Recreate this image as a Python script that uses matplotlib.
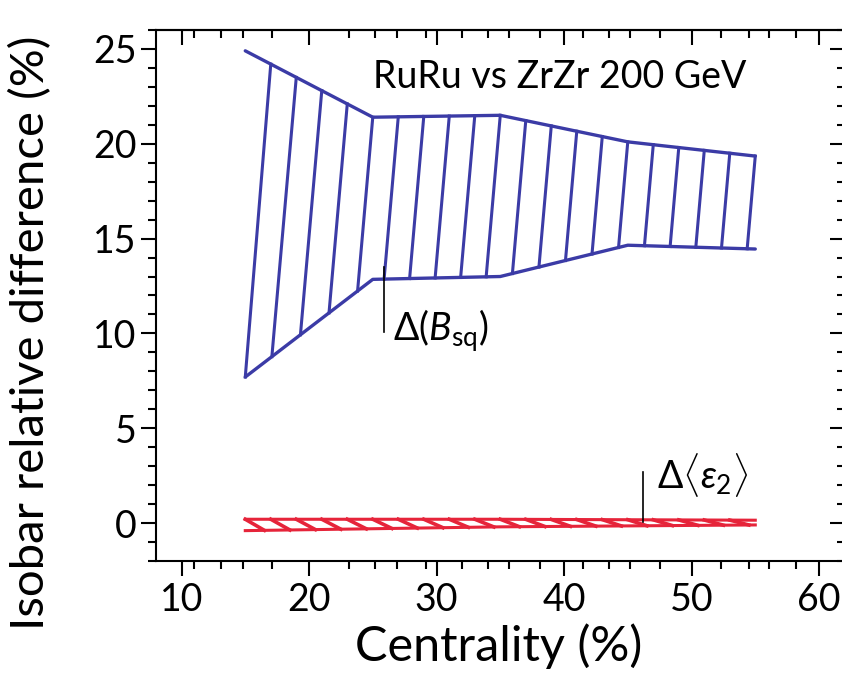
import numpy as np
import matplotlib.pyplot as plt

plt.rcParams['font.family'] = ['Lato', 'DejaVu Sans']
plt.rcParams['mathtext.fontset'] = 'custom'
plt.rcParams['mathtext.rm'] = 'Lato'
plt.rcParams['mathtext.it'] = 'Lato:italic'

# centrality bins (%) and band edges (%)
cent = [15, 25, 35, 45, 55]
bsq_hi = [24.9, 21.4, 21.5, 20.1, 19.35]
bsq_lo = [7.7, 12.85, 13.0, 14.65, 14.45]

eps_cent = [15, 35, 55]
eps_hi = [0.2, 0.2, 0.15]
eps_lo = [-0.4, -0.2, -0.1]

x_major = [10, 20, 30, 40, 50, 60]
x_minor = [11, 13.1, 14.8, 17.1, 23.1, 25.2, 26.9, 29.2, 32, 34, 35.7, 38.1,
           41.5, 43.5, 45.2, 47.5, 52.3, 54.5, 56.1, 58.2]
y_major = [0, 5, 10, 15, 20, 25]
y_minor = list(range(-2, 27))

blue = '#3b3ba6'
red = '#e6243a'

fig = plt.figure(figsize=(8.42, 6.78), dpi=100)
ax = fig.add_axes([0.1853, 0.1726, 0.8177, 0.7832])
ax.set_xlim(8, 62)
ax.set_ylim(-2, 26)

# blue band: outline plus slanted strokes every 2 units
ax.plot(cent, bsq_hi, color=blue, lw=2.4, solid_capstyle='round')
ax.plot(cent, bsq_lo, color=blue, lw=2.4, solid_capstyle='round')
k = 0.13
for xt in np.arange(17, 55.5, 2):
    yt = np.interp(xt, cent, bsq_hi)
    xb = xt
    for _ in range(30):
        xb = xt - k * (yt - np.interp(xb, cent, bsq_lo))
    xb = max(xb, cent[0])
    ax.plot([xb, xt], [np.interp(xb, cent, bsq_lo), yt], color=blue, lw=2.2)

# red band: outline plus shallow back-slanted strokes
ax.plot(eps_cent, eps_hi, color=red, lw=2.2)
ax.plot(eps_cent, eps_lo, color=red, lw=2.2)
for xt in np.arange(15, 55, 2.0):
    xb = min(xt + 1.5, eps_cent[-1])
    ax.plot([xt, xb], [np.interp(xt, eps_cent, eps_hi), np.interp(xb, eps_cent, eps_lo)],
            color=red, lw=2.6)

# labels inside the frame
ax.text(25.0, 22.95, 'RuRu vs ZrZr 200 GeV', fontsize=27, va='baseline')
ax.plot([25.9, 25.9], [10.05, 13.5], color='k', lw=1.2)
ax.text(26.6, 9.6, r'$\Delta(B_{\rm sq})$', fontsize=27, va='baseline')
ax.plot([46.2, 46.2], [0.05, 2.7], color='k', lw=1.2)
ax.text(47.3, 1.8, r'$\Delta\langle\varepsilon_2\rangle$', fontsize=27, va='baseline')

ax.set_xticks(x_major)
ax.set_xticks(x_minor, minor=True)
ax.set_yticks(y_major)
ax.set_yticks(y_minor, minor=True)
ax.tick_params(which='both', direction='out', width=1.5, labelsize=27, top=False, right=False)
ax.tick_params(which='major', length=11)
ax.tick_params(which='minor', length=6)
ax.tick_params(axis='y', pad=3)
ax.tick_params(axis='x', pad=4)
for s in ax.spines.values():
    s.set_linewidth(1.5)

top = ax.secondary_xaxis('top')
top.set_xticks(x_major)
top.set_xticks(x_minor, minor=True)
top.tick_params(which='both', direction='in', width=1.5, labeltop=False)
top.tick_params(which='major', length=11)
top.tick_params(which='minor', length=6)
top.spines['top'].set_linewidth(1.5)

right = ax.secondary_yaxis('right')
right.set_yticks(y_major)
right.set_yticks(y_minor, minor=True)
right.tick_params(which='both', direction='in', width=1.5, labelright=False)
right.tick_params(which='major', length=11)
right.tick_params(which='minor', length=6)
right.spines['right'].set_linewidth(1.5)

ax.set_xlabel('Centrality (%)', fontsize=35)
ax.set_ylabel('Isobar relative difference (%)', fontsize=34)
ax.xaxis.set_label_coords(0.498, -0.118)
ax.yaxis.set_label_coords(-0.151, 0.43)

fig.savefig('out.png', dpi=100)
